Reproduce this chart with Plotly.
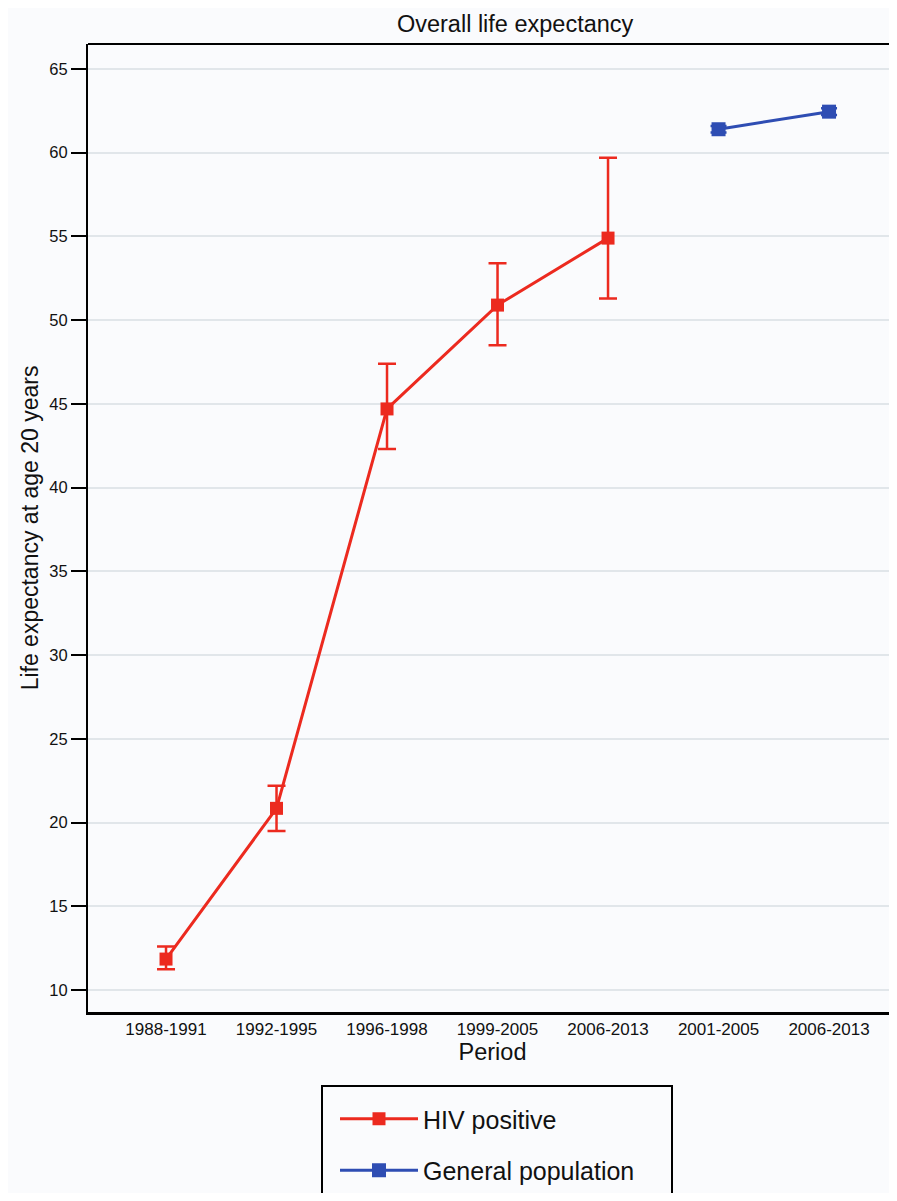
import plotly.graph_objects as go

periods = ["1988-1991", "1992-1995", "1996-1998", "1999-2005", "2006-2013", "2001-2005", "2006-2013"]
hiv_pos = [0, 1, 2, 3, 4]
hiv_vals = [11.85, 20.85, 44.7, 50.9, 54.9]
hiv_upper = [12.6, 22.2, 47.4, 53.4, 59.7]
hiv_lower = [11.25, 19.5, 42.3, 48.5, 51.3]
gen_pos = [5, 6]
gen_vals = [61.4, 62.45]
gen_upper = [61.6, 62.65]
gen_lower = [61.2, 62.25]
yticks = [10, 15, 20, 25, 30, 35, 40, 45, 50, 55, 60, 65]

RED = "#ec2a1f"
BLUE = "#2e4db3"
BG = "#fafbfd"
FONT = "Liberation Sans, Arial, sans-serif"
TXT = "#111111"

# page body has an 8px margin; figure placed at (8, 8)
W, H = 889, 1185
L, T = 80, 36
PW, PH = 809, 969
B = H - T - PH

fig = go.Figure()
fig.add_trace(go.Scatter(
    x=hiv_pos, y=hiv_vals, name="HIV positive", mode="lines+markers",
    legendgroup="hiv",
    line=dict(color=RED, width=3),
    marker=dict(symbol="square", size=13, color=RED),
    error_y=dict(type="data", symmetric=False,
                 array=[u - v for u, v in zip(hiv_upper, hiv_vals)],
                 arrayminus=[v - l for v, l in zip(hiv_vals, hiv_lower)],
                 color=RED, thickness=2.5, width=9),
))
fig.add_trace(go.Scatter(
    x=gen_pos, y=gen_vals, name="General population", mode="lines+markers",
    legendgroup="gen",
    line=dict(color=BLUE, width=3),
    marker=dict(symbol="square", size=14, color=BLUE),
    error_y=dict(type="data", symmetric=False,
                 array=[u - v for u, v in zip(gen_upper, gen_vals)],
                 arrayminus=[v - l for v, l in zip(gen_vals, gen_lower)],
                 color=BLUE, thickness=2.5, width=8),
))

fig.update_layout(
    width=W, height=H,
    margin=dict(l=L, r=0, t=T, b=B),
    paper_bgcolor=BG, plot_bgcolor=BG,
    font=dict(family=FONT, color=TXT),
    title=dict(text="Overall life expectancy", x=0.528, xref="paper", xanchor="center",
               y=1 - 16 / H, yanchor="middle", font=dict(size=23.5, family=FONT, color=TXT)),
    showlegend=True,
    legend=dict(x=(335 - 88) / PW, y=(1013 - 1097) / PH, xanchor="left", yanchor="top",
                bgcolor="rgba(0,0,0,0)", borderwidth=0,
                font=dict(size=25, family=FONT, color=TXT),
                itemwidth=78, tracegroupgap=16, traceorder="grouped"),
    xaxis=dict(
        range=[-0.706, 6.615], tickmode="array", tickvals=list(range(len(periods))),
        ticktext=periods, showgrid=False, zeroline=False,
        showline=True, linecolor="black", linewidth=3, ticks="",
        tickfont=dict(size=17, family=FONT, color=TXT),
        title=dict(text="Period", font=dict(size=23.5, family=FONT, color=TXT), standoff=2),
    ),
    yaxis=dict(
        range=[8.69, 66.49], tickmode="array", tickvals=yticks,
        showgrid=True, gridcolor="#e1e6ea", gridwidth=1.5, zeroline=False,
        showline=True, linecolor="black", linewidth=2,
        ticks="outside", ticklen=15, tickwidth=1.5, tickcolor="black",
        tickfont=dict(size=16.5, family=FONT, color=TXT),
        title=dict(text="Life expectancy at age 20 years", font=dict(size=23, family=FONT, color=TXT), standoff=4),
    ),
    shapes=[
        dict(type="line", xref="paper", yref="paper", x0=0, x1=1, y0=1, y1=1,
             line=dict(color="black", width=2)),
        dict(type="rect", xref="paper", yref="paper",
             x0=(322 - 88) / PW, x1=(672 - 88) / PW,
             y0=(1013 - 1087) / PH, y1=(1013 - 1215) / PH,
             line=dict(color="black", width=2), fillcolor="rgba(0,0,0,0)"),
    ],
)

fig.write_html("out.html")
